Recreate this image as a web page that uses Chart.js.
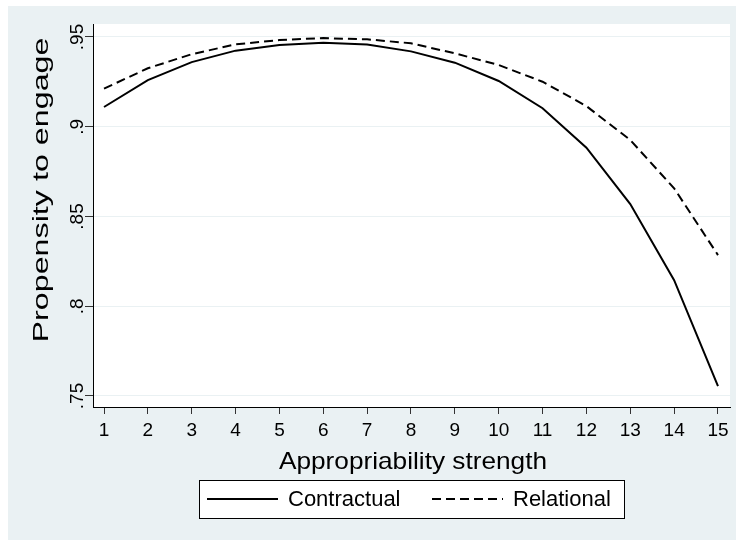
<!DOCTYPE html>
<html>
<head>
<meta charset="utf-8">
<script src="https://cdn.jsdelivr.net/npm/chart.js@4.4.1/dist/chart.umd.min.js"></script>
<style>
  html, body { margin: 0; padding: 0; background: #fff; }
  canvas { display: block; }
</style>
</head>
<body>
<canvas id="propChart" width="736" height="541"></canvas>
<script>
// values
const strength = [1, 2, 3, 4, 5, 6, 7, 8, 9, 10, 11, 12, 13, 14, 15];
const contractual = [0.911, 0.926, 0.936, 0.9424, 0.9455, 0.9468, 0.9458, 0.942, 0.9357, 0.9255, 0.9103, 0.8883, 0.8569, 0.8145, 0.7555];
const relational = [0.9212, 0.9326, 0.9404, 0.9459, 0.9483, 0.9494, 0.9487, 0.9465, 0.9409, 0.9344, 0.9251, 0.9115, 0.8926, 0.8657, 0.8285];
const yTicks = [0.75, 0.8, 0.85, 0.9, 0.95];
const xTicks = strength;
const xTitle = 'Appropriability strength';
const yTitle = 'Propensity to engage';

const regionColor = '#eaf1f3';
const fontFamily = "'Liberation Sans', Arial, sans-serif";

const ctx = document.getElementById('propChart').getContext('2d');

// stata-ish backgrounds: light graph region, white plot region
const backgroundPlugin = {
  id: 'bg',
  beforeDraw(chart) {
    const c = chart.ctx;
    const a = chart.chartArea;
    c.save();
    c.fillStyle = '#fff';
    c.fillRect(0, 0, chart.width, chart.height);
    c.fillStyle = regionColor;
    c.fillRect(8, 6, chart.width - 8, chart.height - 7);
    c.fillStyle = '#fff';
    c.fillRect(a.left, a.top, a.right - a.left, a.bottom - a.top);
    c.restore();
  }
};

// axis titles, stretched along the text like the original export
const titlePlugin = {
  id: 'titles',
  afterDraw(chart) {
    const c = chart.ctx;
    c.save();
    c.fillStyle = '#000';
    c.textAlign = 'center';
    c.textBaseline = 'alphabetic';
    c.font = '24px ' + fontFamily;
    let sx = 268 / c.measureText(xTitle).width;
    c.translate(413, 469);
    c.scale(sx, 1);
    c.fillText(xTitle, 0, 0);
    c.restore();

    c.save();
    c.fillStyle = '#000';
    c.textAlign = 'center';
    c.textBaseline = 'alphabetic';
    c.font = '22px ' + fontFamily;
    sx = 305 / c.measureText(yTitle).width;
    c.translate(48, 190);
    c.rotate(-Math.PI / 2);
    c.scale(sx, 1);
    c.fillText(yTitle, 0, 0);
    c.restore();
  }
};

// boxed legend under the axis title
const boxLegendPlugin = {
  id: 'boxLegend',
  afterDraw(chart) {
    const c = chart.ctx;
    const boxL = 199, boxT = 480, boxW = 425, boxH = 38;
    c.save();
    c.fillStyle = '#fff';
    c.fillRect(boxL, boxT, boxW, boxH);
    c.strokeStyle = '#000';
    c.lineWidth = 1;
    c.strokeRect(boxL + 0.5, boxT + 0.5, boxW, boxH);
    c.font = '22px ' + fontFamily;
    c.textBaseline = 'middle';
    c.fillStyle = '#000';
    const midY = boxT + boxH / 2;
    const starts = [207, 432];
    chart.data.datasets.forEach((ds, i) => {
      const x0 = starts[i];
      c.beginPath();
      c.setLineDash(ds.borderDash || []);
      c.lineWidth = ds.borderWidth;
      c.strokeStyle = ds.borderColor;
      c.moveTo(x0, midY);
      c.lineTo(x0 + 71, midY);
      c.stroke();
      c.setLineDash([]);
      c.fillText(ds.label, x0 + 81, midY + 1);
    });
    c.restore();
  }
};

const chart = new Chart(ctx, {
  type: 'line',
  data: {
    datasets: [{
      label: 'Contractual',
      data: strength.map((s, i) => ({ x: s, y: contractual[i] })),
      borderColor: '#000',
      borderWidth: 2,
      pointRadius: 0,
      tension: 0,
    }, {
      label: 'Relational',
      data: strength.map((s, i) => ({ x: s, y: relational[i] })),
      borderColor: '#000',
      borderWidth: 2,
      borderDash: [9, 5],
      pointRadius: 0,
      tension: 0,
    }]
  },
  options: {
    responsive: false,
    animation: false,
    layout: {
      padding: { left: 8, top: 24, right: 6, bottom: 0 }
    },
    plugins: {
      legend: { display: false },
      tooltip: { enabled: false },
    },
    scales: {
      x: {
        type: 'linear',
        min: 0.749,
        max: 15.274,
        afterBuildTicks: scale => { scale.ticks = xTicks.map(v => ({ value: v })); },
        afterFit: scale => { scale.height = 134; },
        border: { display: true, color: '#000', width: 1 },
        grid: {
          drawOnChartArea: false,
          drawTicks: true,
          tickLength: 7,
          tickColor: '#333',
        },
        ticks: {
          padding: 5,
          color: '#000',
          font: { family: fontFamily, size: 19 },
          maxRotation: 0,
          autoSkip: false,
        },
        title: { display: false }
      },
      y: {
        type: 'linear',
        min: 0.74387,
        max: 0.95724,
        afterBuildTicks: scale => { scale.ticks = yTicks.map(v => ({ value: v })); },
        afterFit: scale => { scale.width = 85; },
        border: { display: true, color: '#000', width: 1 },
        grid: {
          color: regionColor,
          drawTicks: true,
          tickLength: 8,
          tickColor: '#333',
        },
        ticks: {
          color: '#000',
          font: { family: fontFamily, size: 19 },
          minRotation: 90,
          maxRotation: 90,
          crossAlign: 'center',
          padding: -6,
          autoSkip: false,
          callback: v => String(Math.round(v * 100) / 100).replace(/^0/, ''),
        },
        title: { display: false }
      }
    }
  },
  plugins: [backgroundPlugin, titlePlugin, boxLegendPlugin]
});
</script>
</body>
</html>
